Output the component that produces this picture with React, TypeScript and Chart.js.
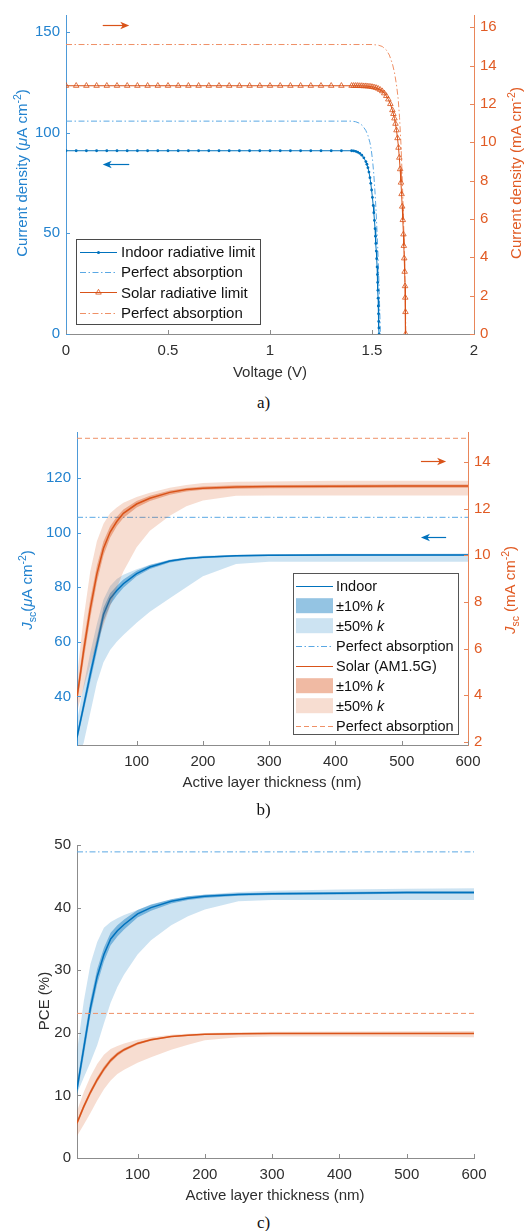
import { useEffect, useRef } from "react";
import { Chart, registerables } from "chart.js";

Chart.register(...registerables);

const FONT = '"Liberation Sans", Arial, Helvetica, sans-serif';
const BLUE = "#0072BD";
const ORANGE = "#D95319";
const BLUE_TXT = "#2383cf";
const BLUE_AX = "#4d9ad8";
const OR_TXT = "#e15b24";
const OR_AX = "#e9865a";
const GRAY_AX = "#8c8c8c";
const GRAY_TXT = "#2e2e2e";
const BLUE_PA = "#5aa8e4";
const OR_PA = "#ef9066";
const BLUE_F10 = "rgba(0,114,189,0.42)";
const BLUE_F50 = "rgba(0,114,189,0.2)";
const OR_F10 = "rgba(217,83,25,0.4)";
const OR_F50 = "rgba(217,83,25,0.2)";
const DASHDOT = [6, 2.5, 1.5, 2.5];
const DASH = [5, 3];

// ---------------- Panel a: J-V curves ----------------
const aVoltIndoor = [
  0, 0.05, 0.1, 0.15, 0.2, 0.25, 0.3, 0.35, 0.4, 0.45, 0.5, 0.55, 0.6, 0.65, 0.7, 0.75, 0.8, 0.85, 0.9, 0.95,
  1, 1.05, 1.1, 1.15, 1.2, 1.25, 1.3, 1.35, 1.4,
  1.41, 1.42, 1.43, 1.44, 1.45, 1.46, 1.47, 1.475, 1.48, 1.485, 1.49, 1.494, 1.498, 1.502, 1.506, 1.509,
  1.512, 1.515, 1.517, 1.519, 1.521, 1.523, 1.525, 1.5265, 1.528, 1.529, 1.53, 1.531, 1.532, 1.533, 1.534, 1.535,
];
const aJIndoor = [
  91, 91, 91, 91, 91, 91, 91, 91, 91, 91, 91, 91, 91, 91, 91, 91, 91, 91, 91, 91,
  91, 91, 91, 91, 91, 91, 91, 91, 91,
  90.9, 90.7, 90.3, 89.7, 88.8, 87.5, 85.6, 84.3, 82.6, 80.4, 77.6, 74.8, 71.5, 67.8, 63.8, 60.2,
  56.4, 52.3, 48.6, 45.0, 41.2, 37.4, 33.3, 29.5, 25.6, 21.7, 17.8, 13.9, 10.0, 6.2, 3.0, 0,
];
const aVoltIndoorPA = [0, 1.4, 1.42, 1.44, 1.455, 1.47, 1.48, 1.49, 1.497, 1.503, 1.509, 1.515, 1.52, 1.525, 1.53, 1.534, 1.537, 1.54, 1.541];
const aJIndoorPA = [105.7, 105.7, 105.4, 104.6, 103.3, 101, 98.6, 95, 91, 86, 79, 70, 61, 50, 38, 26, 15, 5, 0];
const aVoltSolar = [
  0, 0.05, 0.1, 0.15, 0.2, 0.25, 0.3, 0.35, 0.4, 0.45, 0.5, 0.55, 0.6, 0.65, 0.7, 0.75, 0.8, 0.85, 0.9, 0.95,
  1, 1.05, 1.1, 1.15, 1.2, 1.25, 1.3, 1.35, 1.4,
  1.41, 1.42, 1.43, 1.44, 1.45, 1.46, 1.47, 1.48, 1.49, 1.5, 1.51, 1.52, 1.53, 1.54, 1.55, 1.56, 1.57, 1.58, 1.59, 1.6,
  1.605, 1.61, 1.615, 1.62, 1.625, 1.63, 1.634, 1.638, 1.642, 1.645, 1.648, 1.651, 1.654, 1.656, 1.658, 1.66,
  1.662, 1.663, 1.664, 1.665,
];
const aJSolar = [
  12.95, 12.95, 12.95, 12.95, 12.95, 12.95, 12.95, 12.95, 12.95, 12.95, 12.95, 12.95, 12.95, 12.95, 12.95, 12.95, 12.95, 12.95, 12.95, 12.95,
  12.95, 12.95, 12.95, 12.95, 12.95, 12.95, 12.95, 12.95, 12.95,
  12.95, 12.95, 12.95, 12.94, 12.94, 12.93, 12.93, 12.92, 12.91, 12.89, 12.87, 12.84, 12.8, 12.74, 12.67, 12.56, 12.42, 12.24, 12.0, 11.68,
  11.48, 11.25, 10.97, 10.63, 10.22, 9.72, 9.2, 8.6, 7.9, 7.3, 6.65, 5.95, 5.2, 4.6, 3.95, 3.25,
  2.5, 1.9, 1.15, 0,
];
const aVoltSolarPA = [0, 1.5, 1.53, 1.55, 1.57, 1.585, 1.6, 1.61, 1.62, 1.628, 1.635, 1.642, 1.648, 1.654, 1.659, 1.663, 1.666];
const aJSolarPA = [15.1, 15.1, 15.07, 15.0, 14.82, 14.55, 14.1, 13.65, 13.0, 12.3, 11.3, 9.9, 8.2, 6.2, 4.1, 2.1, 0];
const aXTicks = [0, 0.5, 1, 1.5, 2];
const aLeftTicks = [0, 50, 100, 150];
const aRightTicks = [0, 2, 4, 6, 8, 10, 12, 14, 16];

// ---------------- Panels b & c: vs thickness ----------------
const thickness = [10, 20, 30, 40, 50, 60, 70, 80, 100, 120, 150, 175, 200, 250, 300, 400, 500, 600];
const thickTicks = [100, 200, 300, 400, 500, 600];

const bIndoor = [25, 36.5, 48, 59, 70, 75.8, 78.8, 81.3, 85, 87.4, 89.6, 90.5, 91.0, 91.5, 91.7, 91.8, 91.8, 91.8];
const bIndoor10Hi = [26.5, 38.5, 50.5, 61.5, 72.5, 77.8, 80.5, 82.8, 86, 88.1, 90, 90.8, 91.3, 91.8, 92.0, 92.1, 92.1, 92.1];
const bIndoor10Lo = [23.5, 34.5, 45.5, 56.5, 67.5, 73.5, 77, 79.8, 84, 86.7, 89.1, 90.1, 90.6, 91.2, 91.4, 91.5, 91.5, 91.5];
const bIndoor50Hi = [31, 44, 56, 66.5, 75.5, 80.5, 83, 84.6, 86.6, 88.2, 90.2, 91, 91.5, 91.9, 92.1, 92.3, 92.3, 92.4];
const bIndoor50Lo = [17, 23, 34, 45, 52.5, 57, 60, 62.5, 67, 71, 76, 80, 84, 88.5, 89.3, 89.3, 89.3, 89.3];
const bIndoorPA = 105.6;
const bSolar = [3.9, 5.9, 7.7, 9.2, 10.3, 11.0, 11.45, 11.8, 12.2, 12.45, 12.7, 12.82, 12.88, 12.93, 12.95, 12.96, 12.97, 12.97];
const bSolar10Hi = [4.2, 6.3, 8.1, 9.55, 10.6, 11.25, 11.65, 11.97, 12.33, 12.55, 12.78, 12.89, 12.95, 13.0, 13.02, 13.03, 13.04, 13.04];
const bSolar10Lo = [3.6, 5.5, 7.3, 8.85, 10.0, 10.75, 11.25, 11.6, 12.05, 12.33, 12.6, 12.74, 12.81, 12.86, 12.88, 12.89, 12.9, 12.9];
const bSolar50Hi = [4.8, 7.3, 9.3, 10.6, 11.35, 11.8, 12.05, 12.25, 12.5, 12.68, 12.9, 13.02, 13.1, 13.15, 13.17, 13.2, 13.2, 13.2];
const bSolar50Lo = [3.3, 4.3, 5.3, 6.2, 7.0, 7.8, 8.6, 9.3, 10.35, 11.05, 11.7, 12.1, 12.35, 12.55, 12.57, 12.57, 12.57, 12.57];
const bSolarPA = 15.02;
const bLeftTicks = [40, 60, 80, 100, 120];
const bRightTicks = [2, 4, 6, 8, 10, 12, 14];

const cIndoor = [11, 17.5, 24, 29, 32.5, 35, 36.3, 37.3, 39, 40, 41, 41.5, 41.8, 42.1, 42.2, 42.3, 42.4, 42.4];
const cIndoor10Hi = [12, 18.7, 25.2, 30.2, 33.6, 36, 37.2, 38.1, 39.6, 40.5, 41.35, 41.8, 42.05, 42.3, 42.4, 42.5, 42.6, 42.6];
const cIndoor10Lo = [10, 16.3, 22.8, 27.8, 31.4, 34, 35.4, 36.5, 38.4, 39.5, 40.65, 41.2, 41.55, 41.9, 42.0, 42.1, 42.2, 42.2];
const cIndoor50Hi = [17, 25, 31, 34.5, 36.8, 37.7, 38.3, 38.8, 39.6, 40.4, 41.3, 41.8, 42.1, 42.5, 42.7, 42.9, 43.0, 43.1];
const cIndoor50Lo = [10.3, 12.8, 15.3, 18, 21.5, 24.8, 27.3, 29.3, 32.5, 34.8, 37.2, 38.6, 39.7, 41, 41.2, 41.2, 41.2, 41.2];
const cIndoorPA = 48.9;
const cSolar = [5.6, 8.2, 10.5, 12.5, 14.2, 15.6, 16.6, 17.3, 18.3, 18.9, 19.4, 19.6, 19.75, 19.85, 19.9, 19.9, 19.9, 19.9];
const cSolar10Hi = [6.0, 8.6, 10.9, 12.9, 14.6, 15.95, 16.9, 17.55, 18.5, 19.05, 19.5, 19.72, 19.85, 19.95, 20.0, 20.0, 20.0, 20.0];
const cSolar10Lo = [5.2, 7.8, 10.1, 12.1, 13.8, 15.25, 16.3, 17.05, 18.1, 18.75, 19.3, 19.5, 19.65, 19.75, 19.8, 19.8, 19.8, 19.8];
const cSolar50Hi = [7.5, 10.5, 13, 15, 16.5, 17.4, 17.9, 18.3, 18.9, 19.3, 19.7, 19.85, 19.95, 20.1, 20.15, 20.2, 20.25, 20.3];
const cSolar50Lo = [3.5, 5.3, 7.2, 9.2, 11, 12.4, 13.4, 14.1, 15.2, 16.1, 17.3, 18.1, 18.8, 19.3, 19.4, 19.4, 19.35, 19.3];
const cSolarPA = 23.1;
const cTicks = [0, 10, 20, 30, 40, 50];

// ---------------- helpers ----------------
type Seg = { t: string; i?: boolean; s?: "sub" | "sup" };

const pts = (xs: number[], ys: number[]) => xs.map((x, i) => ({ x, y: ys[i] }));
const hline = (xs: number[], v: number) => [{ x: xs[0], y: v }, { x: xs[xs.length - 1], y: v }];

function drawRich(ctx: any, segs: Seg[], size: number, color: string, x: number, y: number, align: string, rot: boolean) {
  ctx.save();
  ctx.translate(x, y);
  if (rot) ctx.rotate(-Math.PI / 2);
  const parts = segs.map((s) => {
    const fs = s.s ? size * 0.7 : size;
    const font = (s.i ? "italic " : "") + fs + "px " + FONT;
    ctx.font = font;
    return { s, font, w: ctx.measureText(s.t).width };
  });
  const total = parts.reduce((a, p) => a + p.w, 0);
  let cx = align === "center" ? -total / 2 : 0;
  ctx.fillStyle = color;
  ctx.textAlign = "left";
  ctx.textBaseline = "alphabetic";
  const base = size * 0.36;
  for (const p of parts) {
    ctx.font = p.font;
    const dy = p.s.s === "sup" ? -size * 0.42 : p.s.s === "sub" ? size * 0.25 : 0;
    ctx.fillText(p.s.t, cx, base + dy);
    cx += p.w;
  }
  ctx.restore();
}

function drawTri(ctx: any, x: number, y: number, r: number, color: string) {
  ctx.save();
  ctx.strokeStyle = color;
  ctx.lineWidth = 0.8;
  ctx.setLineDash([]);
  ctx.beginPath();
  ctx.moveTo(x, y - r);
  ctx.lineTo(x - r * 0.866, y + r * 0.5);
  ctx.lineTo(x + r * 0.866, y + r * 0.5);
  ctx.closePath();
  ctx.stroke();
  ctx.restore();
}

function drawArrow(ctx: any, x0: number, x1: number, y: number, color: string) {
  const dir = x1 > x0 ? 1 : -1;
  ctx.save();
  ctx.strokeStyle = color;
  ctx.fillStyle = color;
  ctx.lineWidth = 1.2;
  ctx.beginPath();
  ctx.moveTo(x0, y);
  ctx.lineTo(x1 - dir * 5, y);
  ctx.stroke();
  ctx.beginPath();
  ctx.moveTo(x1, y);
  ctx.lineTo(x1 - dir * 9, y - 3.8);
  ctx.lineTo(x1 - dir * 6.5, y);
  ctx.lineTo(x1 - dir * 9, y + 3.8);
  ctx.closePath();
  ctx.fill();
  ctx.restore();
}

function drawLegend(ctx: any, L: any) {
  ctx.save();
  ctx.fillStyle = "#ffffff";
  ctx.fillRect(L.x, L.y, L.w, L.h);
  ctx.strokeStyle = L.border;
  ctx.lineWidth = 1;
  ctx.strokeRect(Math.round(L.x) + 0.5, Math.round(L.y) + 0.5, Math.round(L.w), Math.round(L.h));
  L.items.forEach((it: any, i: number) => {
    const cy = L.y0 + i * L.step;
    if (it.kind === "box") {
      ctx.fillStyle = it.color;
      ctx.fillRect(L.sx0, cy - L.boxH / 2, L.sx1 - L.sx0, L.boxH);
    } else {
      ctx.strokeStyle = it.color;
      ctx.lineWidth = it.width || 1;
      ctx.setLineDash(it.dash || []);
      ctx.beginPath();
      ctx.moveTo(L.sx0, Math.round(cy) + 0.5);
      ctx.lineTo(L.sx1, Math.round(cy) + 0.5);
      ctx.stroke();
      ctx.setLineDash([]);
      const mx = (L.sx0 + L.sx1) / 2;
      if (it.marker === "dot") {
        ctx.fillStyle = it.color;
        ctx.beginPath();
        ctx.arc(mx, Math.round(cy) + 0.5, 1.5, 0, Math.PI * 2);
        ctx.fill();
      }
      if (it.marker === "tri") drawTri(ctx, mx, Math.round(cy) + 0.5, 3.2, it.color);
    }
    drawRich(ctx, it.label, L.font, "#111111", L.tx, cy, "left", false);
  });
  ctx.restore();
}

function decor(cfg: any) {
  return {
    id: "decor",
    afterDraw(chart: any) {
      const ctx = chart.ctx;
      for (const [id, col] of cfg.marks) {
        const s = chart.scales[id];
        if (!s) continue;
        ctx.save();
        ctx.strokeStyle = col;
        ctx.lineWidth = 1;
        ctx.beginPath();
        for (const t of s.ticks) {
          const p = Math.round(s.getPixelForValue(t.value)) + 0.5;
          if (s.isHorizontal()) {
            ctx.moveTo(p, s.top);
            ctx.lineTo(p, s.top - 4);
          } else if (s.position === "left") {
            ctx.moveTo(s.right, p);
            ctx.lineTo(s.right + 4, p);
          } else {
            ctx.moveTo(s.left, p);
            ctx.lineTo(s.left - 4, p);
          }
        }
        ctx.stroke();
        ctx.restore();
      }
      for (const t of cfg.titles) drawRich(ctx, t.segs, t.size || 15, t.color, t.x, t.y, "center", !!t.rot);
      for (const a of cfg.arrows || []) {
        const xs = chart.scales.x;
        const ys = chart.scales[a.axis];
        drawArrow(ctx, xs.getPixelForValue(a.from), xs.getPixelForValue(a.to), Math.round(ys.getPixelForValue(a.y)) + 0.5, a.color);
      }
      if (cfg.legend) drawLegend(ctx, cfg.legend);
    },
  };
}

function xScale(min: number, max: number, ticks: number[], h: number) {
  return {
    type: "linear",
    position: "bottom",
    min,
    max,
    afterBuildTicks: (s: any) => {
      s.ticks = ticks.map((v) => ({ value: v }));
    },
    afterFit: (s: any) => {
      s.height = h;
    },
    grid: { display: false, drawTicks: false },
    border: { display: true, color: GRAY_AX, width: 1 },
    ticks: {
      color: GRAY_TXT,
      font: { family: FONT, size: 15 },
      padding: 8,
      maxRotation: 0,
      autoSkip: false,
      callback: (v: any) => String(v),
    },
  };
}

function yScale(position: string, min: number, max: number, ticks: number[], w: number, axColor: string, txtColor: string) {
  return {
    type: "linear",
    position,
    min,
    max,
    afterBuildTicks: (s: any) => {
      s.ticks = ticks.map((v) => ({ value: v }));
    },
    afterFit: (s: any) => {
      s.width = w;
    },
    grid: { display: false, drawTicks: false },
    border: { display: true, color: axColor, width: 1 },
    ticks: {
      color: txtColor,
      font: { family: FONT, size: 15 },
      padding: 6,
      autoSkip: false,
      callback: (v: any) => String(v),
    },
  };
}

function baseOptions(scales: any, padding: any) {
  return {
    responsive: false,
    animation: false,
    events: [],
    devicePixelRatio: 1,
    layout: { padding },
    plugins: { legend: { display: false }, tooltip: { enabled: false } },
    elements: { line: { tension: 0 } },
    scales,
  };
}

function withOrder(ds: any[]) {
  return ds.map((d, i) => ({ order: ds.length - i, ...d }));
}

function band(xs: number[], hi: number[], lo: number[], color: string, axis: string) {
  return [
    { data: pts(xs, hi), yAxisID: axis, fill: "+1", backgroundColor: color, borderColor: "rgba(0,0,0,0)", borderWidth: 0, pointRadius: 0 },
    { data: pts(xs, lo), yAxisID: axis, fill: false, borderColor: "rgba(0,0,0,0)", borderWidth: 0, pointRadius: 0 },
  ];
}

const muTitle = (color: string, x: number, y: number, prefix: Seg[]) => ({
  segs: [...prefix, { t: "μ", i: true }, { t: "A cm" }, { t: "-2", s: "sup" }, { t: ")" }],
  color,
  x,
  y,
  rot: true,
});

// ---------------- panel builders ----------------
function buildA(): any {
  const datasets = withOrder([
    { data: pts(aVoltIndoorPA, aJIndoorPA), yAxisID: "y", borderColor: BLUE_PA, borderWidth: 1, borderDash: DASHDOT, pointRadius: 0 },
    { data: pts(aVoltSolarPA, aJSolarPA), yAxisID: "y1", borderColor: OR_PA, borderWidth: 1, borderDash: DASHDOT, pointRadius: 0 },
    {
      data: pts(aVoltIndoor, aJIndoor), yAxisID: "y", borderColor: BLUE, borderWidth: 1,
      pointRadius: 1.4, pointStyle: "circle", pointBackgroundColor: BLUE, pointBorderWidth: 0,
    },
    {
      data: pts(aVoltSolar, aJSolar), yAxisID: "y1", borderColor: ORANGE, borderWidth: 1,
      pointRadius: 3.2, pointStyle: "triangle", pointBorderColor: ORANGE, pointBackgroundColor: "rgba(0,0,0,0)", pointBorderWidth: 0.8,
    },
  ]);
  const scales = {
    x: xScale(0, 2, aXTicks, 56),
    y: yScale("left", 0, 158.4, aLeftTicks, 66, BLUE_AX, BLUE_TXT),
    y1: yScale("right", 0, 16.64, aRightTicks, 53, OR_AX, OR_TXT),
  };
  const cfg = {
    marks: [["x", GRAY_AX], ["y", BLUE_AX], ["y1", OR_AX]],
    titles: [
      muTitle(BLUE_TXT, 22, 173, [{ t: "Current density (" }]),
      { segs: [{ t: "Current density (mA cm" }, { t: "-2", s: "sup" }, { t: ")" }], color: OR_TXT, x: 516, y: 173, rot: true },
      { segs: [{ t: "Voltage (V)" }], color: GRAY_TXT, x: 270, y: 372 },
    ],
    arrows: [
      { from: 0.18, to: 0.31, y: 16.12, axis: "y1", color: ORANGE },
      { from: 0.31, to: 0.18, y: 84.6, axis: "y", color: BLUE },
    ],
    legend: {
      x: 76, y: 239, w: 184, h: 85, y0: 251.5, step: 20.4, sx0: 80, sx1: 117, tx: 121, font: 15, boxH: 0, border: "#4a4a4a",
      items: [
        { kind: "line", color: BLUE, marker: "dot", label: [{ t: "Indoor radiative limit" }] },
        { kind: "line", color: BLUE_PA, dash: DASHDOT, label: [{ t: "Perfect absorption" }] },
        { kind: "line", color: ORANGE, marker: "tri", label: [{ t: "Solar radiative limit" }] },
        { kind: "line", color: OR_PA, dash: DASHDOT, label: [{ t: "Perfect absorption" }] },
      ],
    },
  };
  return {
    type: "line",
    data: { datasets },
    options: baseOptions(scales, { top: 12, left: 0, right: 0, bottom: 0 }),
    plugins: [decor(cfg)],
  };
}

function buildB(): any {
  const T = 415;
  const datasets = withOrder([
    ...band(thickness, bIndoor50Hi, bIndoor50Lo, BLUE_F50, "y"),
    ...band(thickness, bIndoor10Hi, bIndoor10Lo, BLUE_F10, "y"),
    { data: pts(thickness, bIndoor), yAxisID: "y", borderColor: BLUE, borderWidth: 1.5, pointRadius: 0 },
    { data: hline(thickness, bIndoorPA), yAxisID: "y", borderColor: BLUE_PA, borderWidth: 1, borderDash: DASHDOT, pointRadius: 0 },
    ...band(thickness, bSolar50Hi, bSolar50Lo, OR_F50, "y1"),
    ...band(thickness, bSolar10Hi, bSolar10Lo, OR_F10, "y1"),
    { data: pts(thickness, bSolar), yAxisID: "y1", borderColor: ORANGE, borderWidth: 1.5, pointRadius: 0 },
    { data: hline(thickness, bSolarPA), yAxisID: "y1", borderColor: OR_PA, borderWidth: 1, borderDash: DASH, pointRadius: 0 },
  ]);
  const scales = {
    x: xScale(10, 600, thickTicks, 65),
    y: yScale("left", 22.24, 136.84, bLeftTicks, 77, BLUE_AX, BLUE_TXT),
    y1: yScale("right", 1.86, 15.29, bRightTicks, 59, OR_AX, OR_TXT),
  };
  const kSeg = (p: string): Seg[] => [{ t: p }, { t: "k", i: true }];
  const cfg = {
    marks: [["x", GRAY_AX], ["y", BLUE_AX], ["y1", OR_AX]],
    titles: [
      muTitle(BLUE_TXT, 27, 590 - T, [{ t: "J", i: true }, { t: "sc", s: "sub" }, { t: "(" }]),
      {
        segs: [{ t: "J", i: true }, { t: "sc", s: "sub" }, { t: " (mA cm" }, { t: "-2", s: "sup" }, { t: ")" }],
        color: OR_TXT, x: 510, y: 590 - T, rot: true,
      },
      { segs: [{ t: "Active layer thickness (nm)" }], color: GRAY_TXT, x: 272, y: 782 - T },
    ],
    arrows: [
      { from: 529, to: 567, y: 14.05, axis: "y1", color: ORANGE },
      { from: 567, to: 529, y: 98.3, axis: "y", color: BLUE },
    ],
    legend: {
      x: 293, y: 573 - T, w: 165, h: 161, y0: 585.7 - T, step: 20, sx0: 296, sx1: 333, tx: 336, font: 14.5, boxH: 15, border: "#555555",
      items: [
        { kind: "line", color: BLUE, width: 1, label: [{ t: "Indoor" }] },
        { kind: "box", color: BLUE_F10, label: kSeg("±10% ") },
        { kind: "box", color: BLUE_F50, label: kSeg("±50% ") },
        { kind: "line", color: BLUE_PA, dash: DASHDOT, label: [{ t: "Perfect absorption" }] },
        { kind: "line", color: ORANGE, width: 1, label: [{ t: "Solar (AM1.5G)" }] },
        { kind: "box", color: OR_F10, label: kSeg("±10% ") },
        { kind: "box", color: OR_F50, label: kSeg("±50% ") },
        { kind: "line", color: OR_PA, dash: DASH, label: [{ t: "Perfect absorption" }] },
      ],
    },
  };
  return {
    type: "line",
    data: { datasets },
    options: baseOptions(scales, { top: 17, left: 0, right: 0, bottom: 0 }),
    plugins: [decor(cfg)],
  };
}

function buildC(): any {
  const T = 830;
  const datasets = withOrder([
    ...band(thickness, cIndoor50Hi, cIndoor50Lo, BLUE_F50, "y"),
    ...band(thickness, cIndoor10Hi, cIndoor10Lo, BLUE_F10, "y"),
    { data: pts(thickness, cIndoor), yAxisID: "y", borderColor: BLUE, borderWidth: 1.5, pointRadius: 0 },
    { data: hline(thickness, cIndoorPA), yAxisID: "y", borderColor: BLUE_PA, borderWidth: 1, borderDash: DASHDOT, pointRadius: 0 },
    ...band(thickness, cSolar50Hi, cSolar50Lo, OR_F50, "y"),
    ...band(thickness, cSolar10Hi, cSolar10Lo, OR_F10, "y"),
    { data: pts(thickness, cSolar), yAxisID: "y", borderColor: ORANGE, borderWidth: 1.5, pointRadius: 0 },
    { data: hline(thickness, cSolarPA), yAxisID: "y", borderColor: OR_PA, borderWidth: 1, borderDash: DASH, pointRadius: 0 },
  ]);
  const scales = {
    x: xScale(10, 600, thickTicks, 52),
    y: yScale("left", 0, 50, cTicks, 77, GRAY_AX, GRAY_TXT),
  };
  const cfg = {
    marks: [["x", GRAY_AX], ["y", GRAY_AX]],
    titles: [
      { segs: [{ t: "PCE (%)" }], color: GRAY_TXT, x: 44, y: 1001 - T, rot: true },
      { segs: [{ t: "Active layer thickness (nm)" }], color: GRAY_TXT, x: 275, y: 1195 - T },
    ],
  };
  return {
    type: "line",
    data: { datasets },
    options: baseOptions(scales, { top: 15, left: 0, right: 53, bottom: 0 }),
    plugins: [decor(cfg)],
  };
}

const capStyle = (top: number): any => ({
  position: "absolute",
  left: 0,
  top,
  width: 527,
  height: 22,
  lineHeight: "22px",
  textAlign: "center",
  fontFamily: '"Liberation Serif", "Times New Roman", serif',
  fontSize: 17,
  color: "#111",
});

export default function App() {
  const ra = useRef<HTMLCanvasElement>(null);
  const rb = useRef<HTMLCanvasElement>(null);
  const rc = useRef<HTMLCanvasElement>(null);
  useEffect(() => {
    const charts = [
      new Chart(ra.current as any, buildA()),
      new Chart(rb.current as any, buildB()),
      new Chart(rc.current as any, buildC()),
    ];
    return () => charts.forEach((c) => c.destroy());
  }, []);
  return (
    <div style={{ position: "absolute", left: 0, top: 0, width: 527, height: 1231, background: "#ffffff", overflow: "hidden" }}>
      <canvas ref={ra} width={527} height={390} style={{ position: "absolute", left: 0, top: 0, width: 527, height: 390 }} />
      <canvas ref={rb} width={527} height={395} style={{ position: "absolute", left: 0, top: 415, width: 527, height: 395 }} />
      <canvas ref={rc} width={527} height={380} style={{ position: "absolute", left: 0, top: 830, width: 527, height: 380 }} />
      <div style={capStyle(392)}>a)</div>
      <div style={capStyle(799)}>b)</div>
      <div style={capStyle(1212)}>c)</div>
    </div>
  );
}
